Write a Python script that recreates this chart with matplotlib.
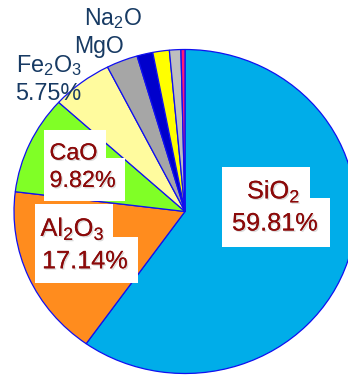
import matplotlib
matplotlib.use("Agg")
import matplotlib.pyplot as plt
from matplotlib.patches import Rectangle
import matplotlib.patheffects as pe

plt.rcParams["font.family"] = ["Liberation Sans", "DejaVu Sans"]
plt.rcParams["mathtext.fontset"] = "custom"
plt.rcParams["mathtext.rm"] = "Liberation Sans"
plt.rcParams["mathtext.it"] = "Liberation Sans"
plt.rcParams["mathtext.default"] = "regular"

# Oxide composition (%)
oxides = ["SiO$_2$", "Al$_2$O$_3$", "CaO", "Fe$_2$O$_3$", "MgO", "Na$_2$O",
          "K$_2$O", "TiO$_2$", "Other"]
shares = [59.81, 17.14, 9.82, 5.75, 2.96, 1.50, 1.56, 1.08, 0.38]
colors = ["#00ADE9", "#FF8C1E", "#80FF26", "#FFFB9E", "#A6A6A6", "#0000CC",
          "#FFFF00", "#BEBEBE", "#FF1A75"]

W, H = 348, 378
fig = plt.figure(figsize=(W / 100, H / 100), dpi=100)
fig.patch.set_facecolor("white")

# pie axes, stretched slightly wider than tall
cx, cy, rx, ry = 185.0, 211.5, 171.0, 162.0
ax = fig.add_axes([0, 0, 1, 1])
ax.pie(shares, colors=colors, startangle=90, counterclock=False,
       radius=1.0, center=(0, 0),
       wedgeprops=dict(edgecolor="#1010F0", linewidth=0.9))
ax.set_aspect("auto")
ax.set_xlim(-cx / rx, (W - cx) / rx)
ax.set_ylim(-(H - cy) / ry, cy / ry)
ax.axis("off")

# overlay in pixel units for the labels
ov = fig.add_axes([0, 0, 1, 1])
ov.set_xlim(0, W)
ov.set_ylim(H, 0)
ov.axis("off")
ov.patch.set_alpha(0)

red = "#8B0A0A"
navy = "#173A63"
shadow = [pe.withSimplePatchShadow(offset=(1, -1), shadow_rgbFace="#999999", alpha=0.35), pe.Normal()]


def box(x0, y0, x1, y1):
    ov.add_patch(Rectangle((x0, y0), x1 - x0, y1 - y0, facecolor="white",
                           edgecolor="none", zorder=2))


def label(x, y, s, color, size, fx=None):
    ov.text(x, y, s, color=color, fontsize=size, ha="left", va="baseline",
            zorder=3, path_effects=fx)


# SiO2
box(221.7, 166.7, 310, 199)
box(221.7, 198, 330, 246.7)
label(247, 198.5, oxides[0], red, 18.2, shadow)
label(232, 230.5, f"{shares[0]:.2f}%", red, 18.2, shadow)

# Al2O3
box(35, 204, 113.3, 238)
box(35, 237.3, 137.7, 283.3)
label(40.5, 236, oxides[1], red, 18.2, shadow)
label(42, 268.3, f"{shares[1]:.2f}%", red, 18.2, shadow)

# CaO
box(44, 130, 106, 159)
box(44, 158, 125, 200.7)
label(49.5, 159.5, oxides[2], red, 16.8, shadow)
label(49.5, 187, f"{shares[2]:.2f}%", red, 16.8, shadow)

# Fe2O3
label(15.5, 71.7, oxides[3], navy, 16.8)
label(15.5, 100, f"{shares[3]:.2f}%", navy, 16.8)

# MgO and Na2O
label(74.5, 53.3, oxides[4], navy, 16.6)
label(83.5, 25, oxides[5], navy, 16.6)

fig.savefig("out.png", dpi=100, facecolor="white")
